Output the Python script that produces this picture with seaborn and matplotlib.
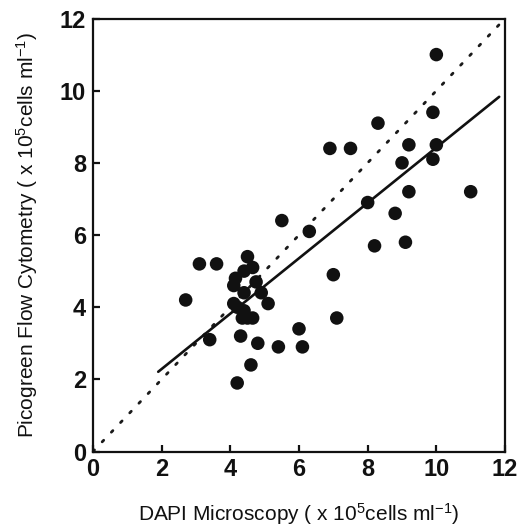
import numpy as np
import pandas as pd
import matplotlib
matplotlib.use("Agg")
import matplotlib.pyplot as plt
import seaborn as sns

# Data (x 10^5 cells per ml)
dapi = [10.0, 9.9, 8.3, 6.9, 7.5, 9.2, 10.0, 9.0, 9.9, 9.2, 11.0, 8.0, 8.8,
        8.2, 9.1, 5.5, 6.3, 7.0, 7.1, 3.1, 3.6, 4.5, 4.4, 4.65, 4.15, 4.1,
        4.75, 4.4, 4.9, 5.1, 2.7, 4.1, 4.2, 4.4, 4.35, 4.65, 4.5, 3.4, 4.3,
        4.8, 5.4, 6.0, 6.1, 4.6, 4.2]
picogreen = [11.0, 9.4, 9.1, 8.4, 8.4, 8.5, 8.5, 8.0, 8.1, 7.2, 7.2, 6.9, 6.6,
             5.7, 5.8, 6.4, 6.1, 4.9, 3.7, 5.2, 5.2, 5.4, 5.0, 5.1, 4.8, 4.6,
             4.7, 4.4, 4.4, 4.1, 4.2, 4.1, 4.0, 3.9, 3.7, 3.7, 3.7, 3.1, 3.2,
             3.0, 2.9, 3.4, 2.9, 2.4, 1.9]

# regression line as drawn in the figure
fit_x = [1.9, 11.83]
fit_y = [2.21, 9.83]

# 1:1 reference line
ref_x = [0, 12]
ref_y = [0, 12]

df = pd.DataFrame({"dapi": dapi, "pico": picogreen})

sns.set_style("ticks")
plt.rcParams["font.family"] = ["Liberation Sans", "DejaVu Sans"]
plt.rcParams["mathtext.fontset"] = "custom"
plt.rcParams["mathtext.rm"] = "Liberation Sans"
plt.rcParams["mathtext.it"] = "Liberation Sans"

fig = plt.figure(figsize=(5.2, 5.26), dpi=100)
ax = fig.add_axes([0.1788, 0.1416, 0.7924, 0.8232])

sns.lineplot(x=ref_x, y=ref_y, ax=ax, color="#1a1a1a", linestyle=(0, (0.8, 4)),
             linewidth=2.0, dash_capstyle="round")
sns.lineplot(x=fit_x, y=fit_y, ax=ax, color="#111111", linewidth=1.9)
sns.scatterplot(data=df, x="dapi", y="pico", ax=ax, s=95, color="#111111",
                edgecolor="none", linewidth=0, zorder=3)

ax.set_xlim(0, 12)
ax.set_ylim(0, 12)
ax.set_xticks(range(0, 13, 2))
ax.set_yticks(range(0, 13, 2))

for sp in ax.spines.values():
    sp.set_linewidth(1.6)
    sp.set_color("#111111")

ax.tick_params(direction="in", length=5, width=1.6, color="#111111",
               labelsize=17, pad=5, top=False, right=False)
for lbl in ax.get_xticklabels() + ax.get_yticklabels():
    lbl.set_fontweight("bold")
    lbl.set_color("#111111")

ax.set_xlabel(r"DAPI Microscopy ( x 10$^{5}$cells ml$^{-1}$)", fontsize=15,
              color="#111111", labelpad=14)
ax.set_ylabel(r"Picogreen Flow Cytometry ( x 10$^{5}$cells ml$^{-1}$)",
              fontsize=15, color="#111111", labelpad=14)

plt.savefig("out.png", dpi=100)
